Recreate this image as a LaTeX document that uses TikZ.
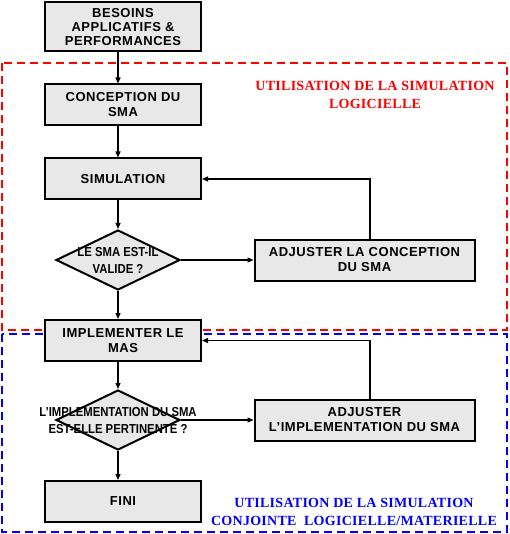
\documentclass[tikz,border=0pt]{standalone}
\usepackage{fontspec}
\setmainfont{Liberation Sans}
\newfontfamily\narrowfont[FakeStretch=0.87]{Liberation Sans}
\newfontfamily\titlefont[LetterSpace=2]{Liberation Serif}
\newfontfamily\boxfont[LetterSpace=4]{Liberation Sans}
\usetikzlibrary{shapes.geometric,arrows.meta}

\begin{document}
\begin{tikzpicture}[x=1pt,y=-1pt]
\tikzset{stepbox/.style={draw,line width=2pt,fill=black!9,minimum width=156,minimum height=41,
  inner sep=0,align=center,font=\boxfont\bfseries\fontsize{13}{15}\selectfont},
decision/.style={diamond,draw,line width=2pt,fill=black!9,minimum width=124,minimum height=60,inner sep=0},
dtext/.style={align=center,inner sep=0,font=\narrowfont\bfseries\fontsize{13}{17}\selectfont},
arr/.style={line width=1.3pt,-{Triangle[length=6pt,width=5pt]}},
zone/.style={line width=2.5pt,dash pattern=on 8pt off 5pt},
zonetitle/.style={align=center,font=\titlefont\bfseries\fontsize{14}{18}\selectfont}}
\useasboundingbox (0,0) rectangle (509,534);

%% Zones
\draw[zone,red] (2,63) rectangle (507,330);
\draw[zone,blue] (2,334) rectangle (507,532);
\node (z1) [zonetitle,red] at (375,95) {UTILISATION DE LA SIMULATION\\LOGICIELLE};
\node (z2) [zonetitle,blue] at (354,512) {UTILISATION DE LA SIMULATION\\CONJOINTE~~LOGICIELLE/MATERIELLE};

%% Steps
\node (b0) [stepbox,minimum height=49,font=\boxfont\bfseries\fontsize{13}{14}\selectfont] at (123,27) {BESOINS\\APPLICATIFS \&\\PERFORMANCES};
\node (b1) [stepbox] at (123,105) {CONCEPTION DU\\SMA};
\node (b2) [stepbox] at (123,179) {SIMULATION};
\node (d1) [decision] at (118,260) {};
\node [dtext] at (d1) {LE SMA EST-IL\\VALIDE ?};
\node (a1) [stepbox,minimum width=220] at (364.5,260) {ADJUSTER LA CONCEPTION\\DU SMA};
\node (b3) [stepbox] at (123,340.5) {IMPLEMENTER LE\\MAS};
\node (d2) [decision] at (118,420) {};
\node [dtext,yshift=-1] at (d2) {L’IMPLEMENTATION DU SMA\\EST-ELLE PERTINENTE ?};
\node (a2) [stepbox,minimum width=220] at (364.5,420) {ADJUSTER\\L’IMPLEMENTATION DU SMA};
\node (b4) [stepbox] at (123,501.5) {FINI};

%% Edges
\draw[arr] (b0.south -| d1.north) -- (b1.north -| d1.north);
\draw[arr] (b1.south -| d1.north) -- (b2.north -| d1.north);
\draw[arr] (b2.south -| d1.north) -- (d1.north);
\draw[arr] (d1.east) -- (a1.west);
\draw[arr] ([xshift=5.5]a1.north) |- (b2.east);
\draw[arr] (d1.south) -- (b3.north -| d1.south);
\draw[arr] (b3.south -| d2.north) -- (d2.north);
\draw[arr] (d2.east) -- (a2.west);
\draw[arr] ([xshift=5.5]a2.north) |- (b3.east);
\draw[arr] (d2.south) -- (b4.north -| d2.south);

\end{tikzpicture}
\end{document}
